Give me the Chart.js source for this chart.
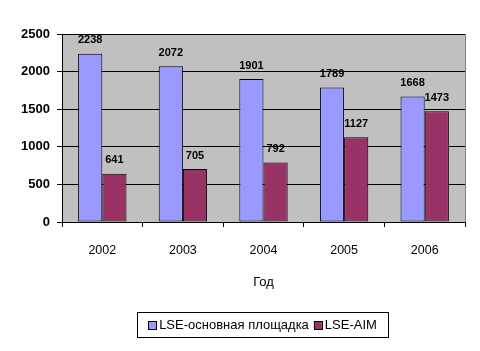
<!DOCTYPE html>
<html>
<head>
<meta charset="utf-8">
<script src="https://cdn.jsdelivr.net/npm/chart.js@4.4.0/dist/chart.umd.min.js"></script>
<style>
  body { margin: 0; background: #fff; }
  #wrap { width: 480px; height: 351px; }
</style>
</head>
<body>
<div id="wrap"><canvas id="chart" width="480" height="351"></canvas></div>
<script>
// years on the x axis
var years = ['2002', '2003', '2004', '2005', '2006'];
// LSE main market
var mainMarket = [2238, 2072, 1901, 1789, 1668];
// LSE-AIM
var aimMarket = [641, 705, 792, 1127, 1473];
var yTicks = [0, 500, 1000, 1500, 2000, 2500];
var seriesNames = ['LSE-основная площадка', 'LSE-AIM'];
var axisTitle = 'Год';

var FONT = 'Arial, "Liberation Sans", sans-serif';

// grey plot area + right border
var plotBg = {
    id: 'plotBg',
    beforeDraw: function(chart) {
        var a = chart.chartArea, ctx = chart.ctx;
        ctx.save();
        ctx.fillStyle = '#C0C0C0';
        ctx.fillRect(a.left, a.top, a.right - a.left, a.bottom - a.top);
        ctx.restore();
    },
    afterDraw: function(chart) {
        var a = chart.chartArea, ctx = chart.ctx;
        ctx.save();
        ctx.strokeStyle = '#808080';
        ctx.lineWidth = 1;
        ctx.beginPath();
        ctx.moveTo(Math.round(a.right) + 0.5, a.top);
        ctx.lineTo(Math.round(a.right) + 0.5, a.bottom);
        ctx.stroke();
        ctx.restore();
    }
};

// value labels above bars
var barLabels = {
    id: 'barLabels',
    afterDatasetsDraw: function(chart) {
        var ctx = chart.ctx;
        ctx.save();
        ctx.font = 'bold 11px ' + FONT;
        ctx.fillStyle = '#000';
        ctx.textAlign = 'center';
        ctx.textBaseline = 'bottom';
        chart.data.datasets.forEach(function(ds, i) {
            chart.getDatasetMeta(i).data.forEach(function(bar, j) {
                ctx.fillText(ds.data[j], bar.x, bar.y - 8);
            });
        });
        ctx.restore();
    }
};

// boxed legend at the bottom
var boxLegend = {
    id: 'boxLegend',
    afterDraw: function(chart) {
        var ctx = chart.ctx;
        ctx.save();
        ctx.font = '13px ' + FONT;
        ctx.textBaseline = 'middle';
        var sq = 8, gap = 3, itemGap = 5;
        var total = 0;
        chart.data.datasets.forEach(function(ds, i) {
            total += sq + gap + ctx.measureText(ds.label).width;
            if (i > 0) total += itemGap;
        });
        var boxL = 137, boxR = 388, boxT = 312, boxB = 337;
        ctx.strokeStyle = '#000';
        ctx.lineWidth = 1;
        ctx.strokeRect(boxL + 0.5, boxT + 0.5, boxR - boxL, boxB - boxT);
        var x = (boxL + boxR) / 2 - total / 2;
        var cy = (boxT + boxB) / 2 + 0.5;
        chart.data.datasets.forEach(function(ds, i) {
            ctx.fillStyle = ds.backgroundColor;
            ctx.fillRect(x, cy - sq / 2, sq, sq);
            ctx.strokeRect(Math.round(x) + 0.5, Math.round(cy - sq / 2) + 0.5, sq, sq);
            x += sq + gap;
            ctx.fillStyle = '#000';
            ctx.fillText(ds.label, x, cy);
            x += ctx.measureText(ds.label).width + itemGap;
        });
        ctx.restore();
    }
};

var ctx = document.getElementById('chart').getContext('2d');

var chart = new Chart(ctx, {
    type: 'bar',
    data: {
        labels: years,
        datasets: [{
            label: seriesNames[0],
            data: mainMarket,
            backgroundColor: '#9999FF',
            borderColor: '#000',
            borderWidth: 1,
            borderSkipped: false
        }, {
            label: seriesNames[1],
            data: aimMarket,
            backgroundColor: '#993366',
            borderColor: '#000',
            borderWidth: 1,
            borderSkipped: false
        }]
    },
    options: {
        responsive: false,
        animation: false,
        layout: { padding: { top: 34, right: 15, bottom: 51, left: 0 } },
        datasets: { bar: { categoryPercentage: 0.6, barPercentage: 1 } },
        plugins: {
            legend: { display: false },
            tooltip: { enabled: false }
        },
        scales: {
            x: {
                offset: true,
                grid: { offset: true, drawOnChartArea: false, drawTicks: true, tickLength: 5, tickColor: '#000' },
                border: { color: '#000' },
                ticks: { color: '#000', font: { family: FONT, size: 12.5 }, padding: 16 },
                title: { display: true, text: axisTitle, color: '#000', font: { family: FONT, size: 13 }, padding: { top: 0, bottom: 10 } },
                afterFit: function(scale) { scale.height = 78; }
            },
            y: {
                min: yTicks[0],
                max: yTicks[yTicks.length - 1],
                afterBuildTicks: function(scale) {
                    scale.ticks = yTicks.map(function(v) { return { value: v }; });
                },
                grid: { color: '#000', tickLength: 5, tickColor: '#000' },
                border: { color: '#000' },
                ticks: {
                    color: '#000',
                    font: { family: FONT, size: 13, weight: 'bold' },
                    padding: 7,
                    callback: function(v) { return String(v); }
                },
                afterFit: function(scale) { scale.width = 62; }
            }
        }
    },
    plugins: [plotBg, barLabels, boxLegend]
});
</script>
</body>
</html>
